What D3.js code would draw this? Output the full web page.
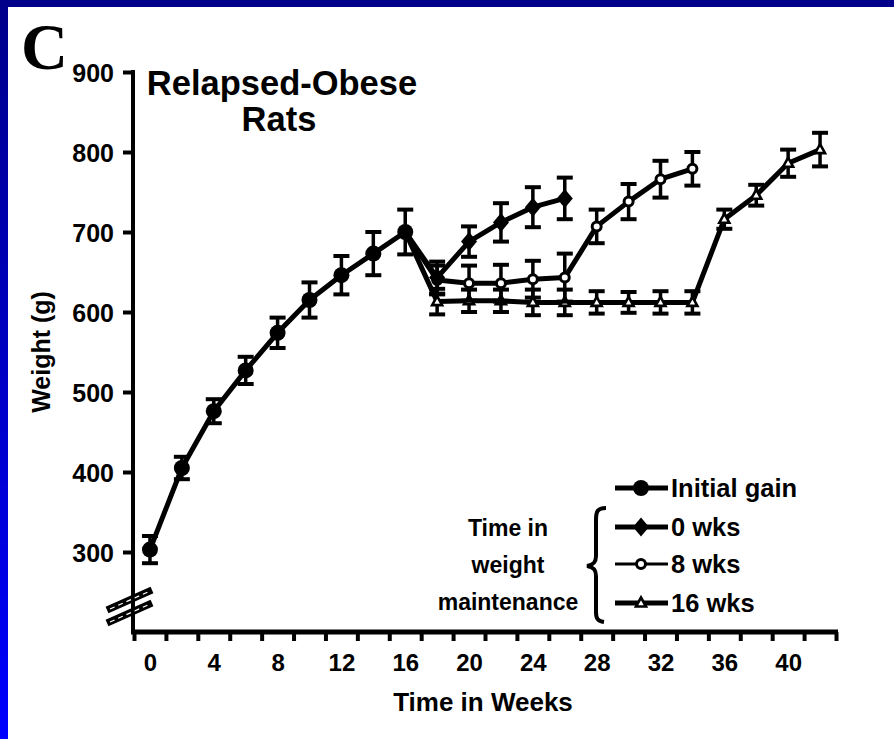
<!DOCTYPE html>
<html><head><meta charset="utf-8">
<script src="https://cdn.jsdelivr.net/npm/d3@7"></script>
<style>
body{margin:0;background:#fff}
svg{display:block}
text{font-family:"Liberation Sans",Arial,sans-serif;font-weight:bold;fill:#000}
</style>
</head><body>
<svg id="chart" width="894" height="739"></svg>
<script>
// ---- data ----
const weeksInitial = [0, 2, 4, 6, 8, 10, 12, 14, 16];
const initialGain  = [303, 405, 476, 527, 574, 615, 646, 673, 700];
const initialErr   = [17, 14, 15, 17, 19, 22, 24, 27, 28];

const weeks0 = [16, 18, 20, 22, 24, 26];
const maint0 = [700, 643, 688, 712, 731, 742];
const err0   = [0, 20, 19, 24, 25, 26];

const weeks8 = [16, 18, 20, 22, 24, 26, 28, 30, 32, 34];
const maint8 = [700, 640, 636, 636, 641, 643, 707, 738, 766, 779];
const err8   = [0, 18, 22, 23, 23, 30, 21, 22, 23, 21];

const weeks16 = [16, 18, 20, 22, 24, 26, 28, 30, 32, 34, 36, 38, 40, 42];
const maint16 = [700, 613, 614, 614, 612, 612, 612, 612, 612, 612, 716, 746, 786, 803];
const err16   = [0, 16, 14, 14, 16, 16, 14, 13, 14, 14, 12, 13, 17, 21];

const xTickLabels = [0, 4, 8, 12, 16, 20, 24, 28, 32, 36, 40];
const xTickMarks  = d3.range(-1, 44, 2);
const yTicks      = [300, 400, 500, 600, 700, 800, 900];

const legendLabels = ["Initial gain", "0 wks", "8 wks", "16 wks"];
const groupLabel   = ["Time in", "weight", "maintenance"];

// ---- setup ----
const svg = d3.select("#chart");
const defs = svg.append("defs");
const grad = defs.append("linearGradient").attr("id", "bg").attr("x1", 0).attr("y1", 0).attr("x2", 0).attr("y2", 1);
grad.append("stop").attr("offset", "0%").attr("stop-color", "#00008a");
grad.append("stop").attr("offset", "100%").attr("stop-color", "#0000ff");
svg.append("rect").attr("width", 894).attr("height", 739).attr("fill", "url(#bg)");
svg.append("rect").attr("x", 8).attr("y", 7).attr("width", 886).attr("height", 732).attr("fill", "#fff");

const x = d3.scaleLinear().domain([-1, 43]).range([134, 836]);
const y = d3.scaleLinear().domain([300, 900]).range([552, 72]);
const axisY = 632, axisX = 133;

// panel letter
svg.append("text").attr("x", 21).attr("y", 69)
  .style("font-family", "'Liberation Serif','Times New Roman',serif")
  .style("font-size", "65px").text("C");

// title
const title = svg.append("text").attr("text-anchor", "middle").style("font-size", "34.5px");
title.append("tspan").attr("x", 282).attr("y", 95).text("Relapsed-Obese");
title.append("tspan").attr("x", 279).attr("y", 131).text("Rats");

// y axis
const yAxis = d3.axisLeft(y).tickValues(yTicks).tickSize(10).tickPadding(9).tickFormat(d3.format("d"));
const gy = svg.append("g").attr("transform", `translate(${axisX},0)`).call(yAxis);
gy.select(".domain").remove();
gy.selectAll(".tick line").attr("stroke", "#000").attr("stroke-width", 4);
gy.selectAll(".tick text").style("font-size", "25px").attr("font-family", null).attr("dy", "0.36em");
svg.append("line").attr("x1", axisX).attr("x2", axisX).attr("y1", y(900) - 2).attr("y2", axisY + 2)
  .attr("stroke", "#000").attr("stroke-width", 4);

// x axis
const xAxisTicks = d3.axisBottom(x).tickValues(xTickMarks).tickSize(9).tickFormat("");
const gx = svg.append("g").attr("transform", `translate(0,${axisY})`).call(xAxisTicks);
gx.select(".domain").remove();
gx.selectAll(".tick line").attr("stroke", "#000").attr("stroke-width", 4);
const xAxisLabels = d3.axisBottom(x).tickValues(xTickLabels).tickSize(0).tickPadding(22).tickFormat(d3.format("d"));
const gxl = svg.append("g").attr("transform", `translate(0,${axisY})`).call(xAxisLabels);
gxl.select(".domain").remove();
gxl.selectAll(".tick text").style("font-size", "24px").attr("font-family", null);
svg.append("line").attr("x1", axisX - 2).attr("x2", x(43) + 2).attr("y1", axisY).attr("y2", axisY)
  .attr("stroke", "#000").attr("stroke-width", 5);

// axis break
[[0], [13]].forEach(([dy]) => {
  svg.append("line").attr("x1", 107).attr("y1", 610 + dy).attr("x2", 152).attr("y2", 590 + dy)
    .attr("stroke", "#000").attr("stroke-width", 7);
  svg.append("line").attr("x1", 110).attr("y1", 609 + dy).attr("x2", 149).attr("y2", 591.5 + dy)
    .attr("stroke", "#fff").attr("stroke-width", 1.2).attr("stroke-dasharray", "5,4");
});

// axis titles
svg.append("text").attr("transform", "translate(50,352) rotate(-90)").attr("text-anchor", "middle")
  .style("font-size", "25px").text("Weight (g)");
svg.append("text").attr("x", 483).attr("y", 711).attr("text-anchor", "middle")
  .style("font-size", "26px").text("Time in Weeks");

// ---- series ----
const series = [
  {name: "16 wks", weeks: weeks16, vals: maint16, errs: err16, marker: "triangle"},
  {name: "8 wks",  weeks: weeks8,  vals: maint8,  errs: err8,  marker: "opencircle"},
  {name: "0 wks",  weeks: weeks0,  vals: maint0,  errs: err0,  marker: "diamond"},
  {name: "Initial gain", weeks: weeksInitial, vals: initialGain, errs: initialErr, marker: "circle"}
];

const line = d3.line().x(d => x(d[0])).y(d => y(d[1]));

function drawMarker(g, type, cx, cy, scale) {
  const s = scale || 1;
  if (type === "circle") {
    g.append("circle").attr("cx", cx).attr("cy", cy).attr("r", 8 * s).attr("fill", "#000");
  } else if (type === "diamond") {
    g.append("path").attr("d", `M${cx},${cy - 9.5 * s}L${cx + 8 * s},${cy}L${cx},${cy + 9.5 * s}L${cx - 8 * s},${cy}Z`).attr("fill", "#000");
  } else if (type === "opencircle") {
    g.append("circle").attr("cx", cx).attr("cy", cy).attr("r", 4.5 * s).attr("fill", "#fff")
      .attr("stroke", "#000").attr("stroke-width", 3);
  } else if (type === "triangle") {
    g.append("path").attr("d", `M${cx},${cy - 5.5 * s}L${cx + 5 * s},${cy + 3.5 * s}L${cx - 5 * s},${cy + 3.5 * s}Z`)
      .attr("fill", "#fff").attr("stroke", "#000").attr("stroke-width", 2.6).attr("stroke-linejoin", "miter");
  }
}

const gData = svg.append("g");
series.forEach(s => {
  const pts = s.weeks.map((w, i) => [w, s.vals[i], s.errs[i]]);
  gData.append("path").datum(pts).attr("d", line).attr("fill", "none")
    .attr("stroke", "#000").attr("stroke-width", 5).attr("stroke-linejoin", "round");
  const eg = gData.append("g");
  pts.filter(p => p[2] > 0).forEach(p => {
    const cx = x(p[0]);
    eg.append("line").attr("x1", cx).attr("x2", cx).attr("y1", y(p[1] - p[2])).attr("y2", y(p[1] + p[2]))
      .attr("stroke", "#000").attr("stroke-width", 3.5);
    [p[1] - p[2], p[1] + p[2]].forEach(v => {
      eg.append("line").attr("x1", cx - 8).attr("x2", cx + 8).attr("y1", y(v)).attr("y2", y(v))
        .attr("stroke", "#000").attr("stroke-width", 4);
    });
  });
  const mg = gData.append("g");
  pts.forEach((p, i) => {
    if (s.marker !== "circle" && i === 0) return; // shared start point drawn by initial gain
    drawMarker(mg, s.marker, x(p[0]), y(p[1]));
  });
});

// ---- legend ----
const legendRows = [
  {label: legendLabels[0], marker: "circle", y: 488},
  {label: legendLabels[1], marker: "diamond", y: 527},
  {label: legendLabels[2], marker: "opencircle", y: 564},
  {label: legendLabels[3], marker: "triangle", y: 603}
];
const lg = svg.append("g");
legendRows.forEach(r => {
  lg.append("line").attr("x1", 615).attr("x2", 668).attr("y1", r.y).attr("y2", r.y)
    .attr("stroke", "#000").attr("stroke-width", r.marker === "opencircle" ? 3 : 5);
  drawMarker(lg, r.marker, 641, r.y, 1);
  lg.append("text").attr("x", 671).attr("y", r.y + 9).style("font-size", "25.5px").text(r.label);
});
const gl = lg.append("text").attr("text-anchor", "middle").style("font-size", "23px");
groupLabel.forEach((t, i) => {
  gl.append("tspan").attr("x", 508).attr("y", 536 + i * 37).text(t);
});
// brace
lg.append("path")
  .attr("d", "M606,508 C597,508 596,512 596,520 L596,556 C596,562 594,565 587,566 C594,567 596,570 596,576 L596,612 C596,619 598,621 604,622")
  .attr("fill", "none").attr("stroke", "#000").attr("stroke-width", 4);
</script>
</body></html>
